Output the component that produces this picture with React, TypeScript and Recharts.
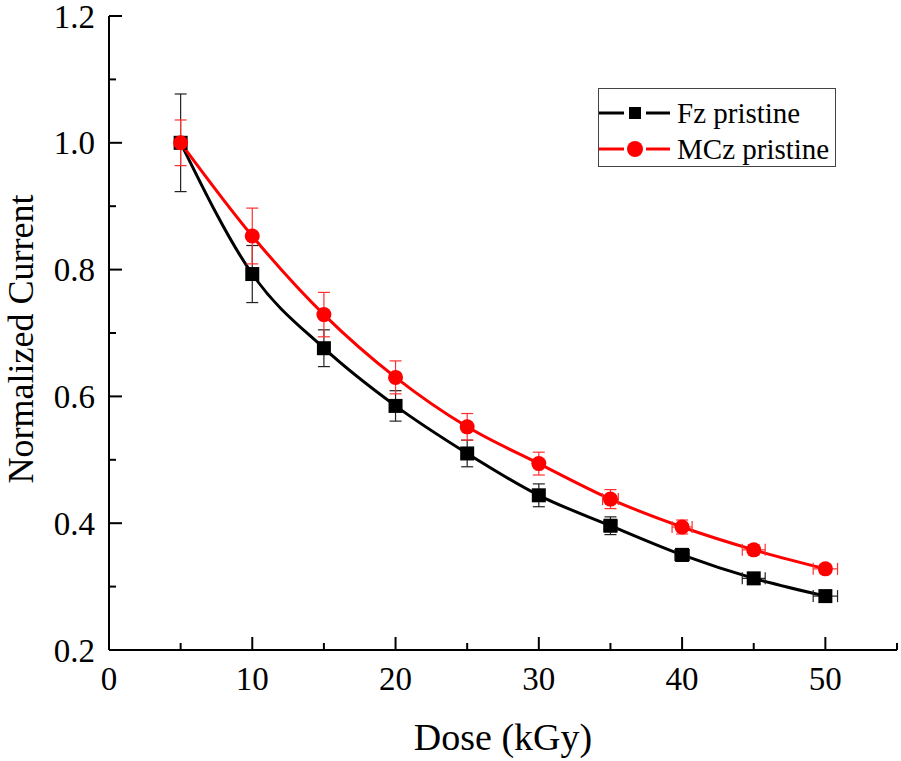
import {
  ComposedChart,
  ErrorBar,
  Label,
  Legend,
  Line,
  Scatter,
  XAxis,
  YAxis,
} from "recharts";

const dose = [5, 10, 15, 20, 25, 30, 35, 40, 45, 50];
const fzCurrent = [1.0, 0.793, 0.676, 0.585, 0.51, 0.444, 0.396, 0.35, 0.313, 0.285];
const fzErrY = [0.077, 0.045, 0.029, 0.024, 0.021, 0.018, 0.014, 0.01, 0.006, 0.006];
const fzErrX = [0, 0, 0, 0, 0, 0, 0.45, 0.5, 0.8, 0.85];
const mczCurrent = [1.0, 0.853, 0.729, 0.63, 0.552, 0.494, 0.438, 0.394, 0.358, 0.328];
const mczErrY = [0.036, 0.044, 0.035, 0.026, 0.021, 0.018, 0.015, 0.011, 0.008, 0.007];
const mczErrX = [0, 0, 0, 0, 0, 0, 0.55, 0.7, 0.8, 0.85];

const seriesNames = ["Fz pristine", "MCz pristine"];
const xTicks = [0, 5, 10, 15, 20, 25, 30, 35, 40, 45, 50, 55];
const yTicks = [0.2, 0.3, 0.4, 0.5, 0.6, 0.7, 0.8, 0.9, 1.0, 1.1, 1.2];

const data = dose.map((d, i) => ({
  dose: d,
  fz: fzCurrent[i],
  fzErrY: fzErrY[i],
  fzErrX: fzErrX[i],
  mcz: mczCurrent[i],
  mczErrY: mczErrY[i],
  mczErrX: mczErrX[i],
}));

const FONT = "'Liberation Serif', 'Times New Roman', serif";
const RED = "#ff0000";

const isMajorX = (v: number) => v % 10 === 0;
const isMajorY = (v: number) => Math.round(v * 10) % 2 === 0;

function BottomTick({ x, y, payload }: any) {
  const major = isMajorX(payload.value);
  return (
    <g>
      <line x1={x} x2={x} y1={y} y2={y - (major ? 13 : 7)} stroke="#000" strokeWidth={2} />
      {major && (
        <text x={x} y={y + 40} textAnchor="middle" fontSize={33} fontFamily={FONT} fill="#000">
          {payload.value}
        </text>
      )}
    </g>
  );
}

function TopTick({ x, y, payload }: any) {
  const major = isMajorX(payload.value);
  return <line x1={x} x2={x} y1={y} y2={y + (major ? 13 : 7)} stroke="#000" strokeWidth={2} />;
}

function LeftTick({ x, y, payload }: any) {
  const major = isMajorY(payload.value);
  return (
    <g>
      <line x1={x} x2={x + (major ? 13 : 7)} y1={y} y2={y} stroke="#000" strokeWidth={2} />
      {major && (
        <text x={x - 14} y={y} dy="0.35em" textAnchor="end" fontSize={33} fontFamily={FONT} fill="#000">
          {payload.value.toFixed(1)}
        </text>
      )}
    </g>
  );
}

function RightTick({ x, y, payload }: any) {
  const major = isMajorY(payload.value);
  return <line x1={x} x2={x - (major ? 13 : 7)} y1={y} y2={y} stroke="#000" strokeWidth={2} />;
}

function XTitle({ viewBox }: any) {
  const { x, y, width } = viewBox;
  return (
    <text x={x + width / 2} y={y + 100} textAnchor="middle" fontSize={38} fontFamily={FONT} fill="#000">
      Dose (kGy)
    </text>
  );
}

function YTitle({ viewBox }: any) {
  const { x, y, height } = viewBox;
  return (
    <text
      transform={`translate(${x + 33},${y + height / 2 + 6}) rotate(-90)`}
      textAnchor="middle"
      fontSize={36}
      fontFamily={FONT}
      fill="#000"
    >
      Normalized Current
    </text>
  );
}

function LegendBox() {
  const colors = ["#000", RED];
  return (
    <div
      style={{
        width: 238,
        height: 79,
        boxSizing: "border-box",
        border: "1px solid #444",
        background: "#fff",
        paddingTop: 6,
      }}
    >
      {seriesNames.map((name, i) => (
        <div key={name} style={{ display: "flex", alignItems: "center", height: 36 }}>
          <svg width={78} height={20} style={{ flex: "none" }}>
            <line x1={0} x2={25} y1={10} y2={10} stroke={colors[i]} strokeWidth={3} />
            <line x1={47} x2={71} y1={10} y2={10} stroke={colors[i]} strokeWidth={3} />
            {i === 0 ? (
              <rect x={30} y={4} width={12} height={12} fill="#000" />
            ) : (
              <circle cx={36} cy={10} r={8} fill={RED} />
            )}
          </svg>
          <span
            style={{
              fontFamily: "'Liberation Serif', serif",
              fontSize: 29,
              lineHeight: "36px",
              color: "#000",
              whiteSpace: "nowrap",
            }}
          >
            {name}
          </span>
        </div>
      ))}
    </div>
  );
}

const squareShape = (p: any) => (
  <rect x={p.cx - 7} y={p.cy - 7} width={14} height={14} fill="#000" />
);
const circleShape = (p: any) => <circle cx={p.cx} cy={p.cy} r={7.5} fill={RED} />;

export default function App() {
  return (
    <div style={{ position: "absolute", left: 0, top: 0, background: "#fff" }}>
      <ComposedChart
        width={901}
        height={761}
        data={data}
        margin={{ top: 16, right: 4, bottom: 0, left: 0 }}
      >
        <XAxis
          dataKey="dose"
          type="number"
          domain={[0, 55]}
          ticks={xTicks}
          height={111}
          tickSize={0}
          tickMargin={0}
          tickLine={false}
          tick={<BottomTick />}
          axisLine={{ stroke: "#000", strokeWidth: 2 }}
          interval={0}
        >
          <Label content={XTitle} />
        </XAxis>
        <XAxis
          xAxisId="top"
          orientation="top"
          type="number"
          domain={[0, 55]}
          ticks={xTicks}
          height={0}
          tickSize={0}
          tickMargin={0}
          tickLine={false}
          tick={<TopTick />}
          axisLine={{ stroke: "#000", strokeWidth: 2 }}
          interval={0}
        />
        <YAxis
          type="number"
          domain={[0.2, 1.2]}
          ticks={yTicks}
          width={109}
          tickSize={0}
          tickMargin={0}
          tickLine={false}
          tick={<LeftTick />}
          axisLine={{ stroke: "#000", strokeWidth: 2 }}
          interval={0}
        >
          <Label content={YTitle} />
        </YAxis>
        <YAxis
          yAxisId="right"
          orientation="right"
          type="number"
          domain={[0.2, 1.2]}
          ticks={yTicks}
          width={0}
          tickSize={0}
          tickMargin={0}
          tickLine={false}
          tick={<RightTick />}
          axisLine={{ stroke: "#000", strokeWidth: 2 }}
          interval={0}
        />
        <Legend
          layout="horizontal"
          verticalAlign="middle"
          align="center"
          content={LegendBox}
          wrapperStyle={{ position: "absolute", left: 598, top: 88, width: 238, height: 79 }}
        />
        <Line
          type="monotone"
          dataKey="fz"
          name={seriesNames[0]}
          stroke="#000"
          strokeWidth={3}
          dot={false}
          activeDot={false}
          isAnimationActive={false}
          legendType="none"
        />
        <Line
          type="monotone"
          dataKey="mcz"
          name={seriesNames[1]}
          stroke={RED}
          strokeWidth={3}
          dot={false}
          activeDot={false}
          isAnimationActive={false}
          legendType="none"
        />
        <Scatter dataKey="fz" name={seriesNames[0]} shape={squareShape} isAnimationActive={false}>
          <ErrorBar dataKey="fzErrY" direction="y" width={6} stroke="#222" strokeWidth={1.2} />
          <ErrorBar dataKey="fzErrX" direction="x" width={6} stroke="#222" strokeWidth={1.2} />
        </Scatter>
        <Scatter dataKey="mcz" name={seriesNames[1]} shape={circleShape} isAnimationActive={false}>
          <ErrorBar dataKey="mczErrY" direction="y" width={6} stroke="#ff3030" strokeWidth={1.2} />
          <ErrorBar dataKey="mczErrX" direction="x" width={6} stroke="#ff3030" strokeWidth={1.2} />
        </Scatter>
      </ComposedChart>
    </div>
  );
}
